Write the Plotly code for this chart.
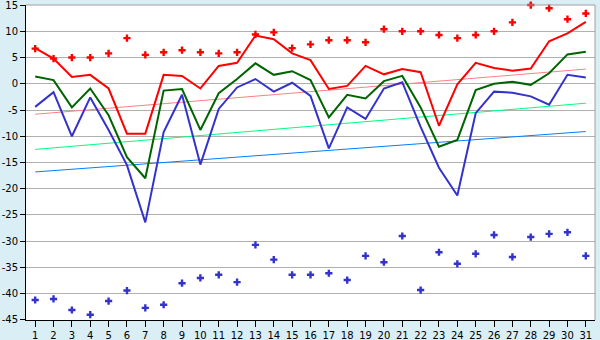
import plotly.graph_objects as go

days = list(range(1, 32))

t_max = [6.8, 4.8, 1.3, 1.7, -0.9, -9.5, -9.5, 1.7, 1.5, -0.9, 3.4, 4.0, 9.2, 8.5, 5.8, 4.5,
         -1.0, -0.4, 3.4, 1.8, 2.8, 2.2, -8.0, -0.1, 4.0, 3.0, 2.5, 2.9, 8.1, 9.6, 11.8]
t_mean = [1.4, 0.7, -4.5, -0.9, -6.0, -14.0, -18.0, -1.3, -1.0, -8.8, -1.8, 0.9, 3.9, 1.7, 2.4, 0.7,
          -6.4, -2.1, -2.8, 0.5, 1.5, -4.5, -12.0, -10.7, -1.2, 0.0, 0.4, -0.2, 2.0, 5.6, 6.1]
t_min = [-4.4, -1.6, -10.0, -2.6, -8.8, -15.5, -26.4, -9.2, -2.1, -15.4, -4.8, -0.7, 0.9, -1.5, 0.2, -2.3,
         -12.3, -4.5, -6.7, -0.9, 0.3, -8.2, -16.0, -21.3, -5.6, -1.5, -1.7, -2.4, -4.0, 1.7, 1.2]
rec_max = [6.7, 4.8, 5.0, 5.0, 5.8, 8.7, 5.5, 6.0, 6.4, 6.0, 5.8, 6.0, 9.4, 9.8, 6.8, 7.5,
           8.3, 8.3, 7.9, 10.4, 10.0, 10.0, 9.3, 8.7, 9.3, 10.0, 11.7, 15.0, 14.4, 12.3, 13.4]
rec_min = [-41.2, -41.0, -43.1, -44.0, -41.4, -39.4, -42.7, -42.1, -38.0, -37.0, -36.4, -37.8, -30.7,
           -33.5, -36.4, -36.4, -36.1, -37.4, -32.8, -34.0, -29.0, -39.3, -32.1, -34.3, -32.4, -28.8,
           -33.0, -29.2, -28.6, -28.3, -32.8]

trend_days = [1, 31]
trend_max = [-5.8, 2.8]
trend_mean = [-12.5, -3.7]
trend_min = [-16.8, -9.1]

y_ticks = [15, 10, 5, 0, -5, -10, -15, -20, -25, -30, -35, -40, -45]
y_labels = ["15", "10", "5", "0", "-5", "-10", "-15", "-20", "-25", "-30", "-35", "-40", "-45"]
x_labels = [str(d) for d in days]

fig = go.Figure()

fig.add_trace(go.Scatter(x=trend_days, y=trend_max, mode="lines", line=dict(color="#ff8080", width=1)))
fig.add_trace(go.Scatter(x=trend_days, y=trend_mean, mode="lines", line=dict(color="#00ff80", width=1)))
fig.add_trace(go.Scatter(x=trend_days, y=trend_min, mode="lines", line=dict(color="#0080ff", width=1)))

fig.add_trace(go.Scatter(x=days, y=t_max, mode="lines", line=dict(color="#ff0000", width=2)))
fig.add_trace(go.Scatter(x=days, y=t_mean, mode="lines", line=dict(color="#006400", width=2)))
fig.add_trace(go.Scatter(x=days, y=t_min, mode="lines", line=dict(color="#3333cc", width=2)))

fig.add_trace(go.Scatter(x=days, y=rec_max, mode="markers", cliponaxis=False,
                         marker=dict(symbol="cross", size=6, color="#ff0000", line=dict(width=0))))
fig.add_trace(go.Scatter(x=days, y=rec_min, mode="markers", cliponaxis=False,
                         marker=dict(symbol="cross", size=6, color="#3333cc", line=dict(width=0))))

font = dict(family="DejaVu Sans", size=10, color="#000000")

fig.update_layout(
    width=600, height=340,
    margin=dict(l=26, r=5, t=5, b=20, autoexpand=False),
    paper_bgcolor="#d9eef5",
    plot_bgcolor="#ffffff",
    showlegend=False,
    font=font,
    xaxis=dict(range=[0.5, 31.5], tickvals=days, ticktext=x_labels, showgrid=False, zeroline=False,
               ticks="outside", ticklen=6, tickcolor="#000000", tickwidth=1, automargin=False,
               showline=True, linecolor="#000000", linewidth=1, tickfont=font, fixedrange=True,
               ticklabeloverflow="allow"),
    yaxis=dict(range=[-45.01, 15.01], tickvals=y_ticks, ticktext=y_labels, showgrid=True,
               gridcolor="#b0b0b0", gridwidth=1, zeroline=False, automargin=False,
               ticks="outside", ticklen=5, tickcolor="#000000", tickwidth=1,
               showline=True, linecolor="#000000", linewidth=1, tickfont=font, fixedrange=True,
               ticklabeloverflow="allow"),
    shapes=[dict(type="line", xref="paper", yref="paper", x0=0, x1=1, y0=1, y1=1,
                 line=dict(color="#a0a0a0", width=1)),
            dict(type="line", xref="paper", yref="paper", x0=1, x1=1, y0=0, y1=1,
                 line=dict(color="#a0a0a0", width=1))],
)

fig.write_html("out.html", config={"displayModeBar": False},
               post_script="document.body.style.margin='0px';document.body.style.padding='0px';")
